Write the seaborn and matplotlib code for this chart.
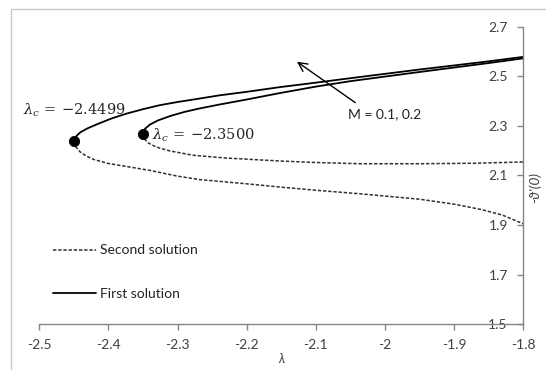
import numpy as np
import pandas as pd
import matplotlib
matplotlib.use("Agg")
import matplotlib.pyplot as plt
from matplotlib.lines import Line2D
import seaborn as sns


# M = 0.2 (outer curve, lambda_c = -2.4499)
lam_outer_first = [-2.4499, -2.446, -2.44, -2.43, -2.415, -2.395, -2.374, -2.35, -2.326, -2.3,
                   -2.277, -2.239, -2.2, -2.152, -2.1, -2.05, -1.95, -1.85, -1.8]
y_outer_first = [2.237, 2.260, 2.275, 2.290, 2.308, 2.330, 2.349, 2.367, 2.383, 2.396,
                 2.406, 2.423, 2.437, 2.456, 2.474, 2.492, 2.527, 2.560, 2.578]
lam_outer_second = [-2.4499, -2.447, -2.441, -2.432, -2.42, -2.4, -2.374, -2.34, -2.3, -2.268,
                    -2.2, -2.152, -2.1, -2.037, -1.95, -1.9, -1.86, -1.83, -1.8]
y_outer_second = [2.237, 2.215, 2.195, 2.178, 2.163, 2.148, 2.136, 2.120, 2.097, 2.083,
                  2.066, 2.053, 2.040, 2.026, 2.004, 1.984, 1.962, 1.940, 1.905]

# M = 0.1 (inner curve, lambda_c = -2.3500)
lam_inner_first = [-2.35, -2.347, -2.34, -2.328, -2.31, -2.29, -2.268, -2.239, -2.2, -2.152,
                   -2.1, -2.05, -1.95, -1.85, -1.8]
y_inner_first = [2.268, 2.288, 2.305, 2.322, 2.340, 2.356, 2.370, 2.386, 2.406, 2.432,
                 2.458, 2.480, 2.517, 2.553, 2.572]
lam_inner_second = [-2.35, -2.348, -2.343, -2.335, -2.326, -2.31, -2.277, -2.23, -2.152, -2.1,
                    -2.037, -1.95, -1.87, -1.8]
y_inner_second = [2.268, 2.248, 2.232, 2.220, 2.210, 2.198, 2.181, 2.170, 2.158, 2.152,
                  2.147, 2.147, 2.149, 2.154]

lam_crit = [-2.4499, -2.35]
y_crit = [2.237, 2.268]
crit_labels = [r"$\lambda_c\,=\,{-}2.4499$", r"$\lambda_c\,=\,{-}2.3500$"]

x_ticks = [-2.5, -2.4, -2.3, -2.2, -2.1, -2, -1.9, -1.8]
x_tick_labels = ["-2.5", "-2.4", "-2.3", "-2.2", "-2.1", "-2", "-1.9", "-1.8"]
y_ticks = [1.5, 1.7, 1.9, 2.1, 2.3, 2.5, 2.7]

sns.set_theme(style="white")
plt.rcParams["font.family"] = ["Lato", "DejaVu Sans"]
plt.rcParams["mathtext.fontset"] = "dejavuserif"

fig = plt.figure(figsize=(5.46, 3.70), dpi=100)
ax = fig.add_axes([0.072, 0.124, 0.886, 0.804])

# outer frame of the chart area (only left and top edges are visible)
fig.add_artist(plt.Rectangle((0.020, -0.2), 1.2, 1.176, transform=fig.transFigure,
                             fill=False, edgecolor="#c8c8c8", linewidth=1.0))

solid_kw = dict(color="black", linewidth=1.3, sort=False, estimator=None, ax=ax)
dash_kw = dict(color="#303030", linewidth=1.1, sort=False, estimator=None, ax=ax,
               dashes=(2.2, 1.2))

sns.lineplot(x=lam_outer_first, y=y_outer_first, **solid_kw)
sns.lineplot(x=lam_inner_first, y=y_inner_first, **solid_kw)
sns.lineplot(x=lam_outer_second, y=y_outer_second, **dash_kw)
sns.lineplot(x=lam_inner_second, y=y_inner_second, **dash_kw)

sns.scatterplot(x=lam_crit, y=y_crit, color="black", s=55, edgecolor="black", ax=ax, zorder=5)

ax.text(-2.5236, 2.362, crit_labels[0], fontsize=10.5, va="center", ha="left", clip_on=False)
ax.text(-2.337, 2.262, crit_labels[1], fontsize=10.5, va="center", ha="left")

ax.annotate("", xy=(-2.1305, 2.565), xytext=(-2.0395, 2.387),
            arrowprops=dict(arrowstyle="->", color="black", lw=1.0, mutation_scale=16))
ax.text(-2.0, 2.346, "M = 0.1, 0.2", fontsize=10, ha="center", va="center", color="#222222")

ax.set_xlim(-2.5, -1.8)
ax.set_ylim(1.5, 2.7)
ax.set_xticks(x_ticks)
ax.set_xticklabels(x_tick_labels)
ax.set_yticks(y_ticks)

for side in ["top", "left"]:
    ax.spines[side].set_visible(False)
for side in ["bottom", "right"]:
    ax.spines[side].set_color("#868686")
    ax.spines[side].set_linewidth(1.0)

ax.tick_params(axis="x", bottom=True, direction="out", length=4, width=1,
               color="#868686", labelsize=10, labelcolor="#404040", pad=7)
ax.tick_params(axis="y", left=False, right=True, labelleft=False, labelright=True,
               direction="in", length=4, width=1, color="#868686",
               labelsize=10, labelcolor="#404040", pad=-11)
plt.setp(ax.get_yticklabels(), ha="right")

ax.set_xlabel("λ", fontsize=9, fontstyle="italic", color="#404040", labelpad=1)
ax.yaxis.set_label_position("right")
ax.set_ylabel("-ϑ'(0)", fontsize=10, fontstyle="italic", color="#404040", rotation=90)
ax.yaxis.set_label_coords(1.012, 0.46)

handles = [Line2D([], [], color="#303030", linewidth=1.1, linestyle=(0, (2.2, 1.2))),
           Line2D([], [], color="black", linewidth=1.3)]
ax.legend(handles, ["Second solution", "First solution"], loc="lower left",
          bbox_to_anchor=(0.028, 0.08), frameon=False, fontsize=10,
          handlelength=3.1, handletextpad=0.3, labelspacing=2.3,
          borderpad=0, borderaxespad=0, labelcolor="#222222")

fig.savefig("out.png", dpi=100)
